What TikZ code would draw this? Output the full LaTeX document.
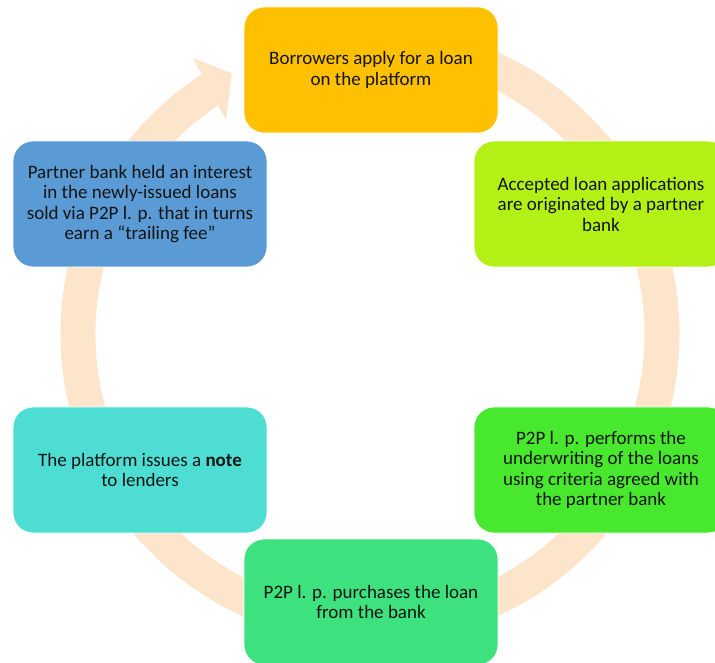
\documentclass[tikz,border=0pt]{standalone}
\usepackage{fontspec}
\setmainfont{Carlito}
\usepackage{tikz}
\usetikzlibrary{calc}
\usepackage{xcolor}
\definecolor{peach}{RGB}{253,229,204}
\definecolor{gold}{RGB}{255,192,0}
\definecolor{limegreen}{RGB}{178,240,22}
\definecolor{brightgreen}{RGB}{72,232,47}
\definecolor{mintgreen}{RGB}{61,226,126}
\definecolor{turquoise}{RGB}{77,221,211}
\definecolor{steelblue}{RGB}{91,155,213}
\definecolor{darktext}{RGB}{20,20,20}
\tikzset{stepbox/.style={rectangle, rounded corners=20pt, draw=white, line width=0.8pt, minimum width=254pt, minimum height=126pt, align=center, text=darktext, font=\fontsize{19}{20.5}\selectfont},
ringline/.style={draw=peach, line width=35pt}}

\begin{document}
\begin{tikzpicture}
        \path[use as bounding box, clip] (0pt, 0pt) rectangle (715pt, 662pt);
        \coordinate (ctr) at (370pt, 328pt);
        % Ring
        \draw[ringline] ($(ctr)+(85:292pt)$) arc[start angle=85, end angle=-237.5, radius=292pt];
        \fill[peach] ($(ctr)+(122.7:328pt)$) -- ($(ctr)+(117.9:295pt)$) -- ($(ctr)+(123.9:258pt)$) -- cycle;
        % Boxes
        \node[stepbox, fill=gold] (apply) at (371pt, 592pt) {Borrowers apply for a loan\\on the platform};
        \node[stepbox, fill=limegreen] (originate) at (601pt, 458pt) {Accepted loan applications\\are originated by a partner\\bank};
        \node[stepbox, fill=brightgreen] (underwrite) at (601pt, 192pt) {P2P l. p. performs the\\underwriting of the loans\\using criteria agreed with\\the partner bank};
        \node[stepbox, fill=mintgreen] (purchase) at (371pt, 60pt) {P2P l. p. purchases the loan\\from the bank};
        \node[stepbox, fill=turquoise] (issue) at (140pt, 192pt) {The platform issues a \textbf{note}\\to lenders};
        \node[stepbox, fill=steelblue] (interest) at (140pt, 458pt) {Partner bank held an interest\\in the newly-issued loans\\sold via P2P l. p. that in turns\\earn a “trailing fee”};
    \end{tikzpicture}
\end{document}
